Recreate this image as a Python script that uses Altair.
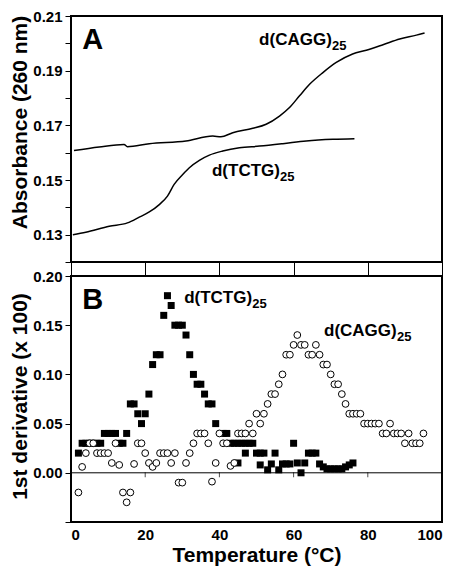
import altair as alt
import pandas as pd

FONT = "Liberation Sans"

# ---------------- Panel A: absorbance melting curves ----------------
A_CAGG_T = [0.8, 7.6, 14.3, 15.2, 21.1, 31.0, 38.2, 40.4, 43.6, 49.0, 52.6, 56.2, 58.9,
            61.6, 64.3, 67.9, 71.5, 75.9, 79.6, 84.1, 88.6, 93.1, 95.3]
A_CAGG_V = [0.1608, 0.1621, 0.1630, 0.1622, 0.1633, 0.1643, 0.1661, 0.1658, 0.1673, 0.1689,
            0.1704, 0.1734, 0.1765, 0.1808, 0.1850, 0.1893, 0.1930, 0.1961, 0.1975, 0.1995,
            0.2016, 0.2030, 0.2038]
A_TCTG_T = [0.5, 4.0, 10.3, 15.2, 18.4, 21.1, 23.8, 26.0, 27.8, 30.1, 31.9, 34.6, 37.3,
            40.9, 45.4, 50.8, 57.1, 63.4, 70.6, 76.4]
A_TCTG_V = [0.1300, 0.1309, 0.1331, 0.1343, 0.1364, 0.1383, 0.1410, 0.1441, 0.1484, 0.1520,
            0.1545, 0.1572, 0.1591, 0.1606, 0.1618, 0.1624, 0.1633, 0.1643, 0.1649, 0.1651]

# ---------------- Panel B: first derivative ----------------
SQ_T = [2, 3, 4, 5, 6, 7, 8, 9, 10, 11, 12, 13, 14, 15, 16, 17, 18, 19, 20, 21, 22, 23, 24,
        25, 26, 27, 28, 29, 30, 31, 32, 33, 34, 35, 36, 37, 38, 39, 41, 42, 43, 44, 45, 46,
        47, 48, 49, 45, 47, 50, 51, 52, 51, 53, 54, 55, 56, 57, 58, 59, 60, 61, 62, 63, 64,
        65, 66, 67, 68, 69, 70, 71, 72, 73, 74, 75, 76]
SQ_V = [0.02, 0.03, 0.03, 0.03, 0.03, 0.03, 0.03, 0.04, 0.04, 0.04, 0.04, 0.03, 0.03, 0.04,
        0.07, 0.07, 0.06, 0.05, 0.06, 0.08, 0.11, 0.12, 0.12, 0.16, 0.18, 0.17, 0.15, 0.15,
        0.15, 0.14, 0.12, 0.10, 0.09, 0.09, 0.08, 0.07, 0.07, 0.05, 0.04, 0.04, 0.03, 0.03,
        0.03, 0.03, 0.03, 0.03, 0.03, 0.01, 0.02, 0.02, 0.02, 0.02, 0.008, 0.003, 0.009, 0.02,
        0.003, 0.009, 0.009, 0.009, 0.03, 0.01, 0.0, 0.01, 0.02, 0.02, 0.02, 0.009, 0.006,
        0.004, 0.004, 0.004, 0.004, 0.004, 0.006, 0.008, 0.01]

CI_T = list(range(2, 96))
CI_V = [-0.02, 0.006, 0.02, 0.03, 0.03, 0.02, 0.02, 0.02, 0.02, 0.01, 0.03, 0.008, -0.02,
        -0.03, -0.02, 0.009, 0.03, 0.03, 0.02, 0.01, 0.006, 0.01, 0.02, 0.02, 0.02, 0.01,
        0.02, -0.01, -0.01, 0.01, 0.02, 0.03, 0.04, 0.04, 0.04, 0.03, -0.009, 0.01, 0.04,
        0.03, 0.03, 0.007, 0.01, 0.04, 0.04, 0.04, 0.05, 0.04, 0.06, 0.05, 0.06, 0.07, 0.08,
        0.08, 0.09, 0.10, 0.12, 0.12, 0.13, 0.14, 0.13, 0.13, 0.12, 0.12, 0.13, 0.12, 0.11,
        0.11, 0.10, 0.09, 0.09, 0.08, 0.07, 0.06, 0.06, 0.06, 0.06, 0.05, 0.05, 0.05, 0.05,
        0.05, 0.04, 0.04, 0.05, 0.04, 0.04, 0.04, 0.03, 0.04, 0.03, 0.03, 0.03, 0.04]

X_TICKS = [0, 20, 40, 60, 80, 100]
A_YTICKS = [0.12, 0.13, 0.14, 0.15, 0.16, 0.17, 0.18, 0.19, 0.20, 0.21]
A_YLABELS = ["0.13", "0.15", "0.17", "0.19", "0.21"]
B_YTICKS = [-0.05, 0.0, 0.05, 0.10, 0.15, 0.20]
ZERO_TICKS_T = [20, 40, 60, 80]

# labels: (T, V, main text, subscript)
LABELS_A = [(50.7, 0.1995, "d(CAGG)", "25"), (38.0, 0.1514, "d(TCTG)", "25")]
LABELS_B = [(30.5, 0.1724, "d(TCTG)", "25"), (68.2, 0.1395, "d(CAGG)", "25")]
PANEL_A = (3.0, 0.1979, "A")
PANEL_B = (3.0, 0.1666, "B")

W, HA, HB = 371, 246, 246

label_list = "[" + ",".join("'%s'" % s for s in A_YLABELS) + "]"
exprA = "indexof(" + label_list + ", format(datum.value, '.2f')) >= 0 ? format(datum.value, '.2f') : ''"

# shared encodings (identical in every layer so that axes merge cleanly)
xA = alt.X("T:Q", scale=alt.Scale(domain=[0, 100], nice=False),
           axis=alt.Axis(values=X_TICKS, labels=False, title=None, tickSize=14,
                         grid=False, domain=False))
yA = alt.Y("V:Q", scale=alt.Scale(domain=[0.12, 0.21], nice=False, zero=False),
           axis=alt.Axis(values=A_YTICKS, grid=False, domain=False, tickSize=6,
                         labelOverlap=False, labelExpr=exprA,
                         title="Absorbance (260 nm)", titlePadding=2, titleY=106))
xB = alt.X("T:Q", scale=alt.Scale(domain=[0, 100], nice=False),
           axis=alt.Axis(values=X_TICKS, format="d", title="Temperature (°C)", tickSize=0,
                         labelPadding=5, titlePadding=2, grid=False, domain=False,
                         labelOverlap=False))
yB = alt.Y("V:Q", scale=alt.Scale(domain=[-0.05, 0.20], nice=False, zero=False),
           axis=alt.Axis(values=B_YTICKS, grid=False, domain=False, tickSize=6,
                         labelOverlap=False,
                         labelExpr="datum.value < -0.01 ? '' : format(datum.value, '.2f')",
                         title="1st derivative (x 100)", titlePadding=2, titleY=120))


def seq_labels(labels, xe, ye):
    layers = []
    for t, v, main, sub in labels:
        d = pd.DataFrame({"T": [t], "V": [v], "main": [main], "sub": [sub]})
        base = alt.Chart(d)
        layers.append(base.mark_text(align="left", baseline="alphabetic", font=FONT,
                                     fontSize=17, fontWeight="bold", color="black")
                      .encode(x=xe, y=ye, text="main:N"))
        dxs = 73 if "CAGG" in main else 68
        layers.append(base.mark_text(align="left", baseline="alphabetic", font=FONT,
                                     fontSize=13, fontWeight="bold", color="black",
                                     dx=dxs, dy=5)
                      .encode(x=xe, y=ye, text="sub:N"))
    return layers


def panel_letter(p, xe, ye):
    d = pd.DataFrame({"T": [p[0]], "V": [p[1]], "L": [p[2]]})
    return alt.Chart(d).mark_text(align="left", baseline="alphabetic", font=FONT,
                                  fontSize=29, fontWeight="bold", color="black").encode(
        x=xe, y=ye, text="L:N")


# ---- Panel A ----
dfA = pd.concat([
    pd.DataFrame({"T": A_CAGG_T, "V": A_CAGG_V, "s": "CAGG"}),
    pd.DataFrame({"T": A_TCTG_T, "V": A_TCTG_V, "s": "TCTG"}),
])
linesA = alt.Chart(dfA).mark_line(color="black", strokeWidth=1.5, interpolate="monotone").encode(
    x=xA, y=yA, detail="s:N")
panelA = alt.layer(linesA, *seq_labels(LABELS_A, xA, yA),
                   panel_letter(PANEL_A, xA, yA)).properties(width=W, height=HA)

# ---- Panel B ----
dfSq = pd.DataFrame({"T": SQ_T, "V": SQ_V})
dfCi = pd.DataFrame({"T": CI_T, "V": CI_V})
zero = alt.Chart(pd.DataFrame({"V": [0.0]})).mark_rule(color="black", strokeWidth=1).encode(
    y=yB)
zticks = alt.Chart(pd.DataFrame({"T": ZERO_TICKS_T, "V": [0.0] * len(ZERO_TICKS_T)})).mark_tick(
    orient="vertical", size=5, thickness=1, color="black", yOffset=2).encode(x=xB, y=yB)
squares = alt.Chart(dfSq).mark_square(size=49, color="black", opacity=1).encode(x=xB, y=yB)
circles = alt.Chart(dfCi).mark_circle(size=46, fill="white", stroke="black", strokeWidth=1,
                                      opacity=1).encode(x=xB, y=yB)
panelB = alt.layer(squares, zero, zticks, circles, *seq_labels(LABELS_B, xB, yB),
                   panel_letter(PANEL_B, xB, yB)).properties(width=W, height=HB)

chart = alt.vconcat(panelA, panelB, spacing=14, bounds="flush",
                    background="white", padding=0).configure_view(
    stroke="black", strokeWidth=2
).configure_axis(
    labelFont=FONT, titleFont=FONT, labelFontSize=15, labelFontWeight="bold",
    titleFontSize=21, titleFontWeight="bold", labelColor="black", titleColor="black",
    tickColor="black", tickWidth=1, labelPadding=3
)

chart.save("out.html", embed_options={"renderer": "svg", "actions": False})
